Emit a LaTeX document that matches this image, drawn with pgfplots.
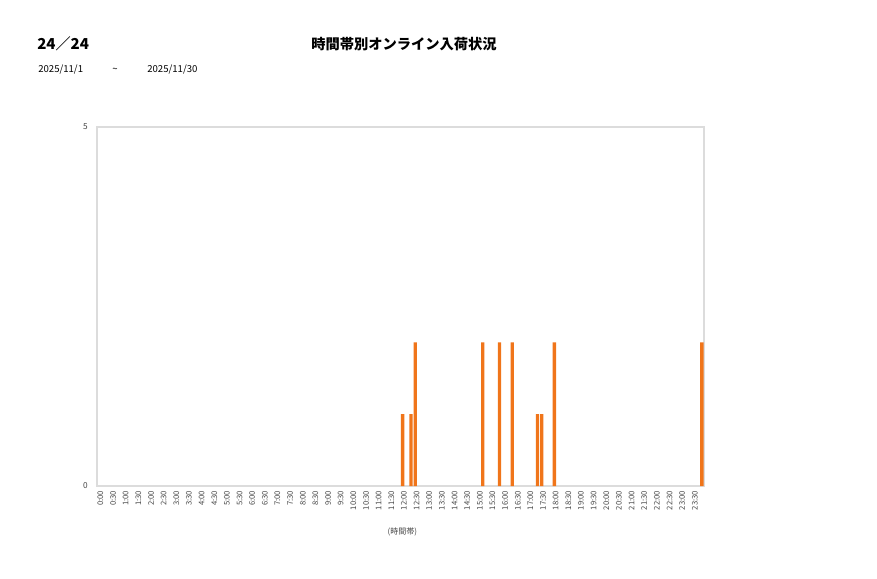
\documentclass[border=0pt]{standalone}
\usepackage{fontspec}
\setmainfont{Noto Sans CJK JP}
\usepackage{pgfplots}
\pgfplotsset{compat=1.18}
\definecolor{barorange}{RGB}{240,117,26}
\definecolor{framegray}{RGB}{220,220,220}
\definecolor{ticktext}{RGB}{70,70,70}

% 10-minute slots: 0 = 0:00, 1 = 0:10, ..., 143 = 23:50
\begin{document}
\begin{tikzpicture}[x=0.75pt,y=0.75pt]
\useasboundingbox (0,0) rectangle (877,578);
\node[anchor=west,inner sep=0pt,font=\bfseries\fontsize{11.3}{13}\selectfont] at (37,534) {24／24};
\node[inner sep=0pt,font=\bfseries\fontsize{10.7}{13}\selectfont] at (404,534) {時間帯別オンライン入荷状況};
\node[anchor=west,inner sep=0pt,font=\fontsize{7.2}{8}\selectfont] at (38,508) {2025/11/1};
\node[inner sep=0pt,font=\fontsize{7.2}{8}\selectfont] at (115,508) {\textasciitilde};
\node[anchor=west,inner sep=0pt,font=\fontsize{7.2}{8}\selectfont] at (147,508) {2025/11/30};
\begin{axis}[
  at={(72.75pt,69pt)}, anchor=south west,
  scale only axis, width=455.25pt, height=269.25pt,
  ybar, bar width=2.5pt,
  xmin=-0.5, xmax=143.5, ymin=0, ymax=5,
  axis line style={draw=framegray, line width=0.8pt},
  major tick length=0pt,
  ytick={0,5},
  xtick={0,3,...,141},
  xticklabels={0:00,0:30,1:00,1:30,2:00,2:30,3:00,3:30,4:00,4:30,5:00,5:30,
    6:00,6:30,7:00,7:30,8:00,8:30,9:00,9:30,10:00,10:30,11:00,11:30,
    12:00,12:30,13:00,13:30,14:00,14:30,15:00,15:30,16:00,16:30,17:00,17:30,
    18:00,18:30,19:00,19:30,20:00,20:30,21:00,21:30,22:00,22:30,23:00,23:30},
  /pgf/number format/assume math mode=true,
  xticklabel style={rotate=90, anchor=east, font=\fontsize{5.8}{6}\selectfont, text=ticktext, yshift=-1pt},
  yticklabel style={font=\fontsize{6.2}{7}\selectfont, text=ticktext, xshift=-3.5pt},
  xlabel={(時間帯)},
  xlabel style={at={(axis description cs:0.503,-0.128)}, anchor=center, font=\fontsize{6}{7}\selectfont, text=ticktext},
]
\addplot[fill=barorange, draw=none] coordinates {
  (72,1) (74,1) (75,2)
  (91,2) (95,2) (98,2)
  (104,1) (105,1) (108,2)
  (143,2)
};
\end{axis}
\end{tikzpicture}
\end{document}
